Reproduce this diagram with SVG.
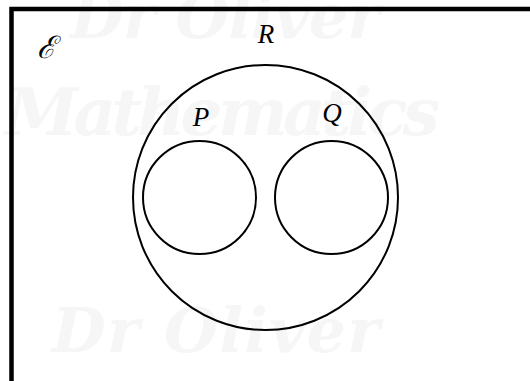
<svg xmlns="http://www.w3.org/2000/svg" width="530" height="381" viewBox="0 0 530 381">
<style>
.wm{font-family:"DejaVu Serif",serif;font-style:italic;font-weight:bold;fill:#f6f6f6}
.set{fill:none;stroke:#000;stroke-width:2}
.lbl{font-family:"Liberation Serif","DejaVu Serif",serif;font-style:italic;font-size:27px;fill:#000;text-anchor:middle}
</style>
<rect width="530" height="381" fill="#fff"/>
<g id="watermark">
<text class="wm" x="70" y="38" font-size="62" textLength="310">Dr Oliver</text>
<text class="wm" x="5" y="135" font-size="66" textLength="435">Mathematics</text>
<text class="wm" x="52" y="352" font-size="62" textLength="328">Dr Oliver</text>
</g>
<g id="universe">
<rect x="11.5" y="9" width="540" height="400" fill="none" stroke="#000" stroke-width="4.5"/>
<text x="46" y="58" font-family="DejaVu Serif,serif" font-style="italic" font-size="31" text-anchor="middle">ℰ</text>
</g>
<g id="R">
<circle class="set" cx="265.5" cy="197.5" r="132.5"/>
<text class="lbl" x="266" y="43">R</text>
</g>
<g id="P">
<circle class="set" cx="199.5" cy="197.5" r="56.5"/>
<text class="lbl" x="201" y="126">P</text>
</g>
<g id="Q">
<circle class="set" cx="331.5" cy="197.5" r="56.5"/>
<text class="lbl" x="332" y="122">Q</text>
</g>
<g id="connectors"></g>
</svg>
